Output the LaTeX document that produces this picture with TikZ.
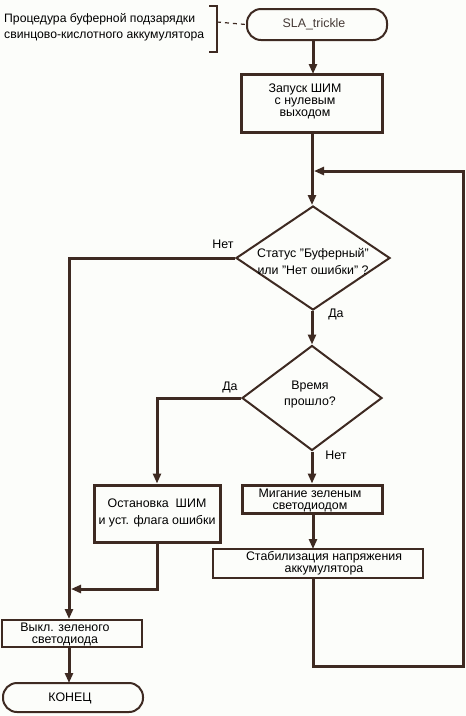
\documentclass[tikz,border=0pt]{standalone}
\usepackage{fontspec}
\setmainfont{Liberation Sans}
\usetikzlibrary{shapes.geometric,arrows.meta}
\definecolor{ln}{RGB}{62,42,34}
\definecolor{bg}{RGB}{252,253,250}
\definecolor{gtx}{RGB}{70,58,54}
\newcommand\qmark{\char34\relax}
\begin{document}
\begin{tikzpicture}[x=1pt,y=-1pt,
  font=\fontsize{12.4}{12}\selectfont,
  thk/.style={draw=ln,line width=3pt},
  thn/.style={draw=ln,line width=2pt},
  flow/.style={draw=ln,line width=3pt,-{Triangle[length=10pt,width=8pt]}},
  boxA/.style={thk,rectangle,inner sep=0pt},
  boxB/.style={thn,rectangle,inner sep=0pt},
  term/.style={thn,rectangle,rounded corners=14pt,inner sep=0pt},
  dia/.style={thn,diamond,inner sep=0pt},
  txt/.style={align=center,inner sep=0pt},
  lbl/.style={inner sep=0pt}
]
\fill[bg] (0,0) rectangle (466,716);
\useasboundingbox (0,0) rectangle (466,716);

% start
\node[term,minimum width=140pt,minimum height=31pt] (start) at (317,24.5) {};
\node[txt,text=gtx] (tstart) at (314,24) {SLA\_trickle};

% comment
\node[txt,align=left,anchor=west,font=\fontsize{12.2}{16}\selectfont] (cmt) at (4,27) {Процедура буферной подзарядки\\свинцово-кислотного аккумулятора};
\coordinate (bt) at (209,6);
\coordinate (bb) at (209,52);
\draw[draw=ln,line width=1.2pt] (bt) -- (217,6) -- (217,52) -- (bb);
\draw[draw=ln,line width=1.2pt,dash pattern=on 4pt off 4pt] (217,22) -- (start.west);

% box 1
\node[boxA,minimum width=141pt,minimum height=58pt] (zap) at (311.5,103) {};
\node[txt] (tzap) at (305,101) {Запуск ШИМ\\с нулевым\\выходом};

% decision 1
\node[dia,minimum width=154pt,minimum height=104pt] (dec1) at (313,258) {};
\node[txt,font=\fontsize{12.4}{17}\selectfont] (tdec1) at (313,261) {Статус \qmark Буферный\qmark\\или \qmark Нет ошибки\qmark{} ?};

% decision 2
\node[dia,minimum width=140pt,minimum height=105pt] (dec2) at (312,398) {};
\node[txt,font=\fontsize{12.4}{16}\selectfont] (tdec2) at (310,395) {Время\\прошло?};

% boxes
\node[boxA,minimum width=126pt,minimum height=57pt] (ost) at (157,513.5) {};
\node[txt,font=\fontsize{12.4}{17}\selectfont] (tost) at (157,513) {Остановка\ \ ШИМ\\и уст. флага ошибки};

\node[boxA,minimum width=140pt,minimum height=28pt] (mig) at (312,499) {};
\node[txt] (tmig) at (310,500) {Мигание зеленым\\светодиодом};

\node[boxB,minimum width=210pt,minimum height=29pt] (stab) at (318,563.5) {};
\node[txt] (tstab) at (324,563) {Стабилизация напряжения\\аккумулятора};

\node[boxB,minimum width=140pt,minimum height=27pt] (vykl) at (72,633.5) {};
\node[txt] (tvykl) at (65,634) {Выкл. зеленого\\светодиода};

\node[term,minimum width=140pt,minimum height=29pt] (end) at (73,697.5) {};
\node[txt] (tend) at (70,698) {КОНЕЦ};

% labels
\node[lbl] (l1) at (223,244) {Нет};
\node[lbl] (l2) at (336,314) {Да};
\node[lbl] (l3) at (230,387) {Да};
\node[lbl] (l4) at (336,455) {Нет};

% connectors
\coordinate (j) at (312,171);
\coordinate (c1) at (69,258);
\coordinate (c2) at (69,589);
\draw[flow] (start.south -| 313,0) -- (313,74);
\draw[flow] (312,132) -- (dec1.north -| 312,0);
\draw[flow] (dec1.south -| 312,0) -- (dec2.north);
\draw[flow] (dec2.south) -- (mig.north);
\draw[flow] (dec2.west) -| (ost.north);
\draw[flow] (313,513) -- (313,549);
\draw[flow] (313,578) -- (313,666) -- (463,666) -- (463,171) -- ([xshift=2pt]j);
\draw[flow] (dec1.west) -- (c1) -- (c1 |- vykl.north);
\draw[flow] (ost.south) |- ([xshift=2pt]c2);
\draw[flow] (69,647) -- (69,683);
\end{tikzpicture}
\end{document}
